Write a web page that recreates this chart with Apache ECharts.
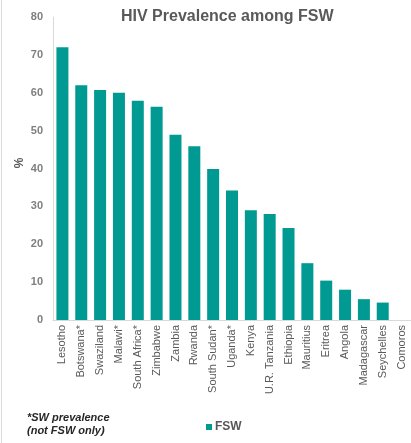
<!DOCTYPE html>
<html>
<head>
<meta charset="utf-8">
<script src="https://cdn.jsdelivr.net/npm/echarts@6/dist/echarts.min.js"></script>
<style>
  html, body { margin: 0; padding: 0; background: #fff; }
  #chart { width: 411px; height: 443px; }
</style>
</head>
<body>
<div id="chart"></div>
<script>
// HIV prevalence among female sex workers, by country (%)
const countries = ['Lesotho', 'Botswana*', 'Swaziland', 'Malawi*', 'South Africa*', 'Zimbabwe',
  'Zambia', 'Rwanda', 'South Sudan*', 'Uganda*', 'Kenya', 'U.R. Tanzania', 'Ethiopia',
  'Mauritius', 'Eritrea', 'Angola', 'Madagascar', 'Seychelles', 'Comoros'];
const fswPrevalence = [72.0, 62.0, 60.7, 60.0, 57.9, 56.3, 48.9, 45.9, 39.9, 34.2, 29.0, 28.0, 24.3,
  15.0, 10.4, 8.0, 5.5, 4.6, null];
const yTicks = [0, 10, 20, 30, 40, 50, 60, 70, 80];

const chart = echarts.init(document.getElementById('chart'), null, { renderer: 'canvas' });
const font = 'Liberation Sans, Arial, sans-serif';

chart.setOption({
  animation: false,
  backgroundColor: '#ffffff',
  grid: { left: 53, right: 0, top: 17, bottom: 123, containLabel: false },
  legend: {
    data: ['FSW'],
    left: 201,
    top: 416,
    icon: 'rect',
    itemWidth: 6,
    itemHeight: 6,
    itemGap: 4,
    textStyle: { fontFamily: font, fontSize: 12, fontWeight: 'bold', color: '#595959', padding: [0, 0, 0, -2] }
  },
  xAxis: {
    type: 'category',
    data: countries,
    axisLine: { lineStyle: { color: '#d9d9d9', width: 1 } },
    axisTick: { show: false },
    axisLabel: {
      rotate: 90,
      interval: 0,
      margin: 5,
      fontFamily: font,
      fontSize: 11,
      color: '#595959'
    }
  },
  yAxis: {
    type: 'value',
    min: yTicks[0],
    max: yTicks[yTicks.length - 1],
    interval: 10,
    axisLine: { show: true, lineStyle: { color: '#d9d9d9', width: 1 } },
    axisTick: { show: false },
    splitLine: { show: false },
    axisLabel: {
      margin: 10,
      fontFamily: font,
      fontSize: 11,
      fontWeight: 'bold',
      color: '#7f7f7f'
    }
  },
  series: [{
    name: 'FSW',
    type: 'bar',
    data: fswPrevalence,
    barWidth: 12,
    itemStyle: { color: '#009a93' }
  }],
  graphic: [
    {
      type: 'text',
      left: 121,
      top: 9,
      style: {
        text: 'HIV Prevalence among FSW',
        fontFamily: font,
        fontSize: 16,
        fontWeight: 'bold',
        fill: '#595959'
      }
    },
    {
      // y-axis unit, rotated to read bottom-to-top
      type: 'text',
      x: 20,
      y: 163,
      rotation: Math.PI / 2,
      style: {
        text: '%',
        fontFamily: font,
        fontSize: 12,
        fontWeight: 'bold',
        fill: '#595959',
        align: 'center',
        verticalAlign: 'middle'
      }
    },
    {
      type: 'text',
      left: 27,
      top: 411,
      style: {
        text: '*SW prevalence\n(not FSW only)',
        fontFamily: font,
        fontSize: 11,
        fontWeight: 'bold',
        fontStyle: 'italic',
        lineHeight: 13,
        fill: '#262626'
      }
    },
    {
      type: 'line',
      shape: { x1: 1.5, y1: 0, x2: 1.5, y2: 443 },
      style: { stroke: '#d9d9d9', lineWidth: 1 }
    }
  ]
});
</script>
</body>
</html>
